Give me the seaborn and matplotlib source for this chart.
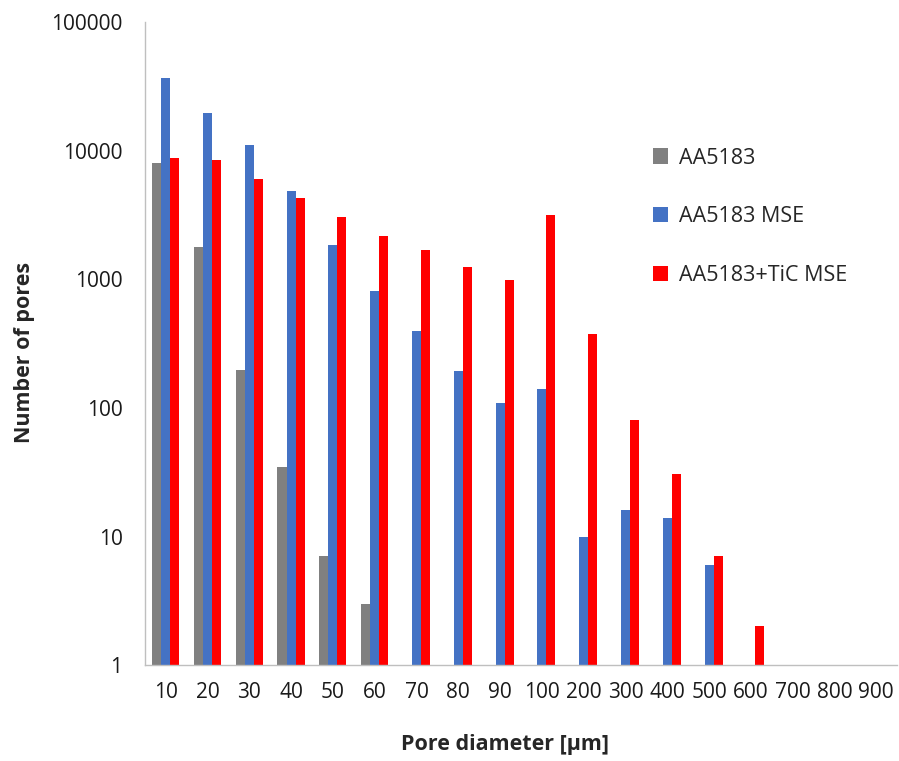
import numpy as np
import pandas as pd
import matplotlib
matplotlib.use("Agg")
import matplotlib.pyplot as plt
import seaborn as sns
from matplotlib.ticker import FixedLocator, NullFormatter

# =========================
# DATA
# =========================

diameters = ["10", "20", "30", "40", "50", "60", "70", "80", "90",
             "100", "200", "300", "400", "500", "600", "700", "800", "900"]

aa5183 = [8000, 1780, 197, 35, 7, 3, np.nan, np.nan, np.nan,
          np.nan, np.nan, np.nan, np.nan, np.nan, np.nan, np.nan, np.nan, np.nan]

aa5183_mse = [36700, 19600, 11000, 4850, 1845, 810, 395, 193, 109,
              140, 10, 16, 14, 6, np.nan, np.nan, np.nan, np.nan]

aa5183_tic_mse = [8750, 8450, 6000, 4270, 3050, 2170, 1690, 1245, 985,
                  3150, 375, 80, 30.5, 7, 2, np.nan, np.nan, np.nan]

series_names = ["AA5183", "AA5183 MSE", "AA5183+TiC MSE"]
colors = ["#808080", "#4472C4", "#FF0000"]

df = pd.DataFrame({
    "diameter": diameters * 3,
    "count": aa5183 + aa5183_mse + aa5183_tic_mse,
    "series": [n for n in series_names for _ in diameters],
})

# =========================
# PLOT
# =========================

sns.set_style("white")
plt.rcParams["font.family"] = ["Open Sans", "DejaVu Sans"]

fig = plt.figure(figsize=(8.99, 7.61), dpi=100)
ax = fig.add_axes([0.161, 0.126, 0.837, 0.845])

sns.barplot(data=df, x="diameter", y="count", hue="series",
            order=diameters, hue_order=series_names,
            palette=colors, width=0.65, errorbar=None,
            saturation=1, linewidth=0, ax=ax)

ax.set_yscale("log")
ax.set_ylim(1, 100000)
ax.set_xlim(-0.5, len(diameters) - 0.5)
ax.set_yticks([1, 10, 100, 1000, 10000, 100000])
ax.set_yticklabels(["1", "10", "100", "1000", "10000", "100000"])
ax.yaxis.set_minor_locator(FixedLocator([]))

# category boundary ticks like Excel
ax.xaxis.set_minor_locator(FixedLocator(np.arange(-0.5, len(diameters), 1)))
ax.xaxis.set_minor_formatter(NullFormatter())
ax.tick_params(axis="x", which="major", length=0, labelsize=15, pad=12,
               labelcolor="#1a1a1a")
ax.tick_params(axis="x", which="minor", length=6, color="#BFBFBF", width=1)
ax.tick_params(axis="y", which="major", length=6, color="#BFBFBF",
               labelsize=15, pad=10, labelcolor="#1a1a1a")

for side in ["top", "right"]:
    ax.spines[side].set_visible(False)
for side in ["left", "bottom"]:
    ax.spines[side].set_color("#BFBFBF")
    ax.spines[side].set_linewidth(1)

ax.set_xlabel("Pore diameter [µm]", fontsize=15.5, fontweight="bold", va="center")
ax.set_ylabel("Number of pores", fontsize=15.5, fontweight="bold")
ax.xaxis.set_label_coords(0.479, -0.124)
ax.yaxis.set_label_coords(-0.146, 0.487)

ax.legend(loc="upper left", bbox_to_anchor=(0.65, 0.835), frameon=False,
          fontsize=15.5, labelspacing=1.75, handlelength=0.7, handleheight=0.7,
          handletextpad=0.5)

fig.savefig("out.png", dpi=100)
